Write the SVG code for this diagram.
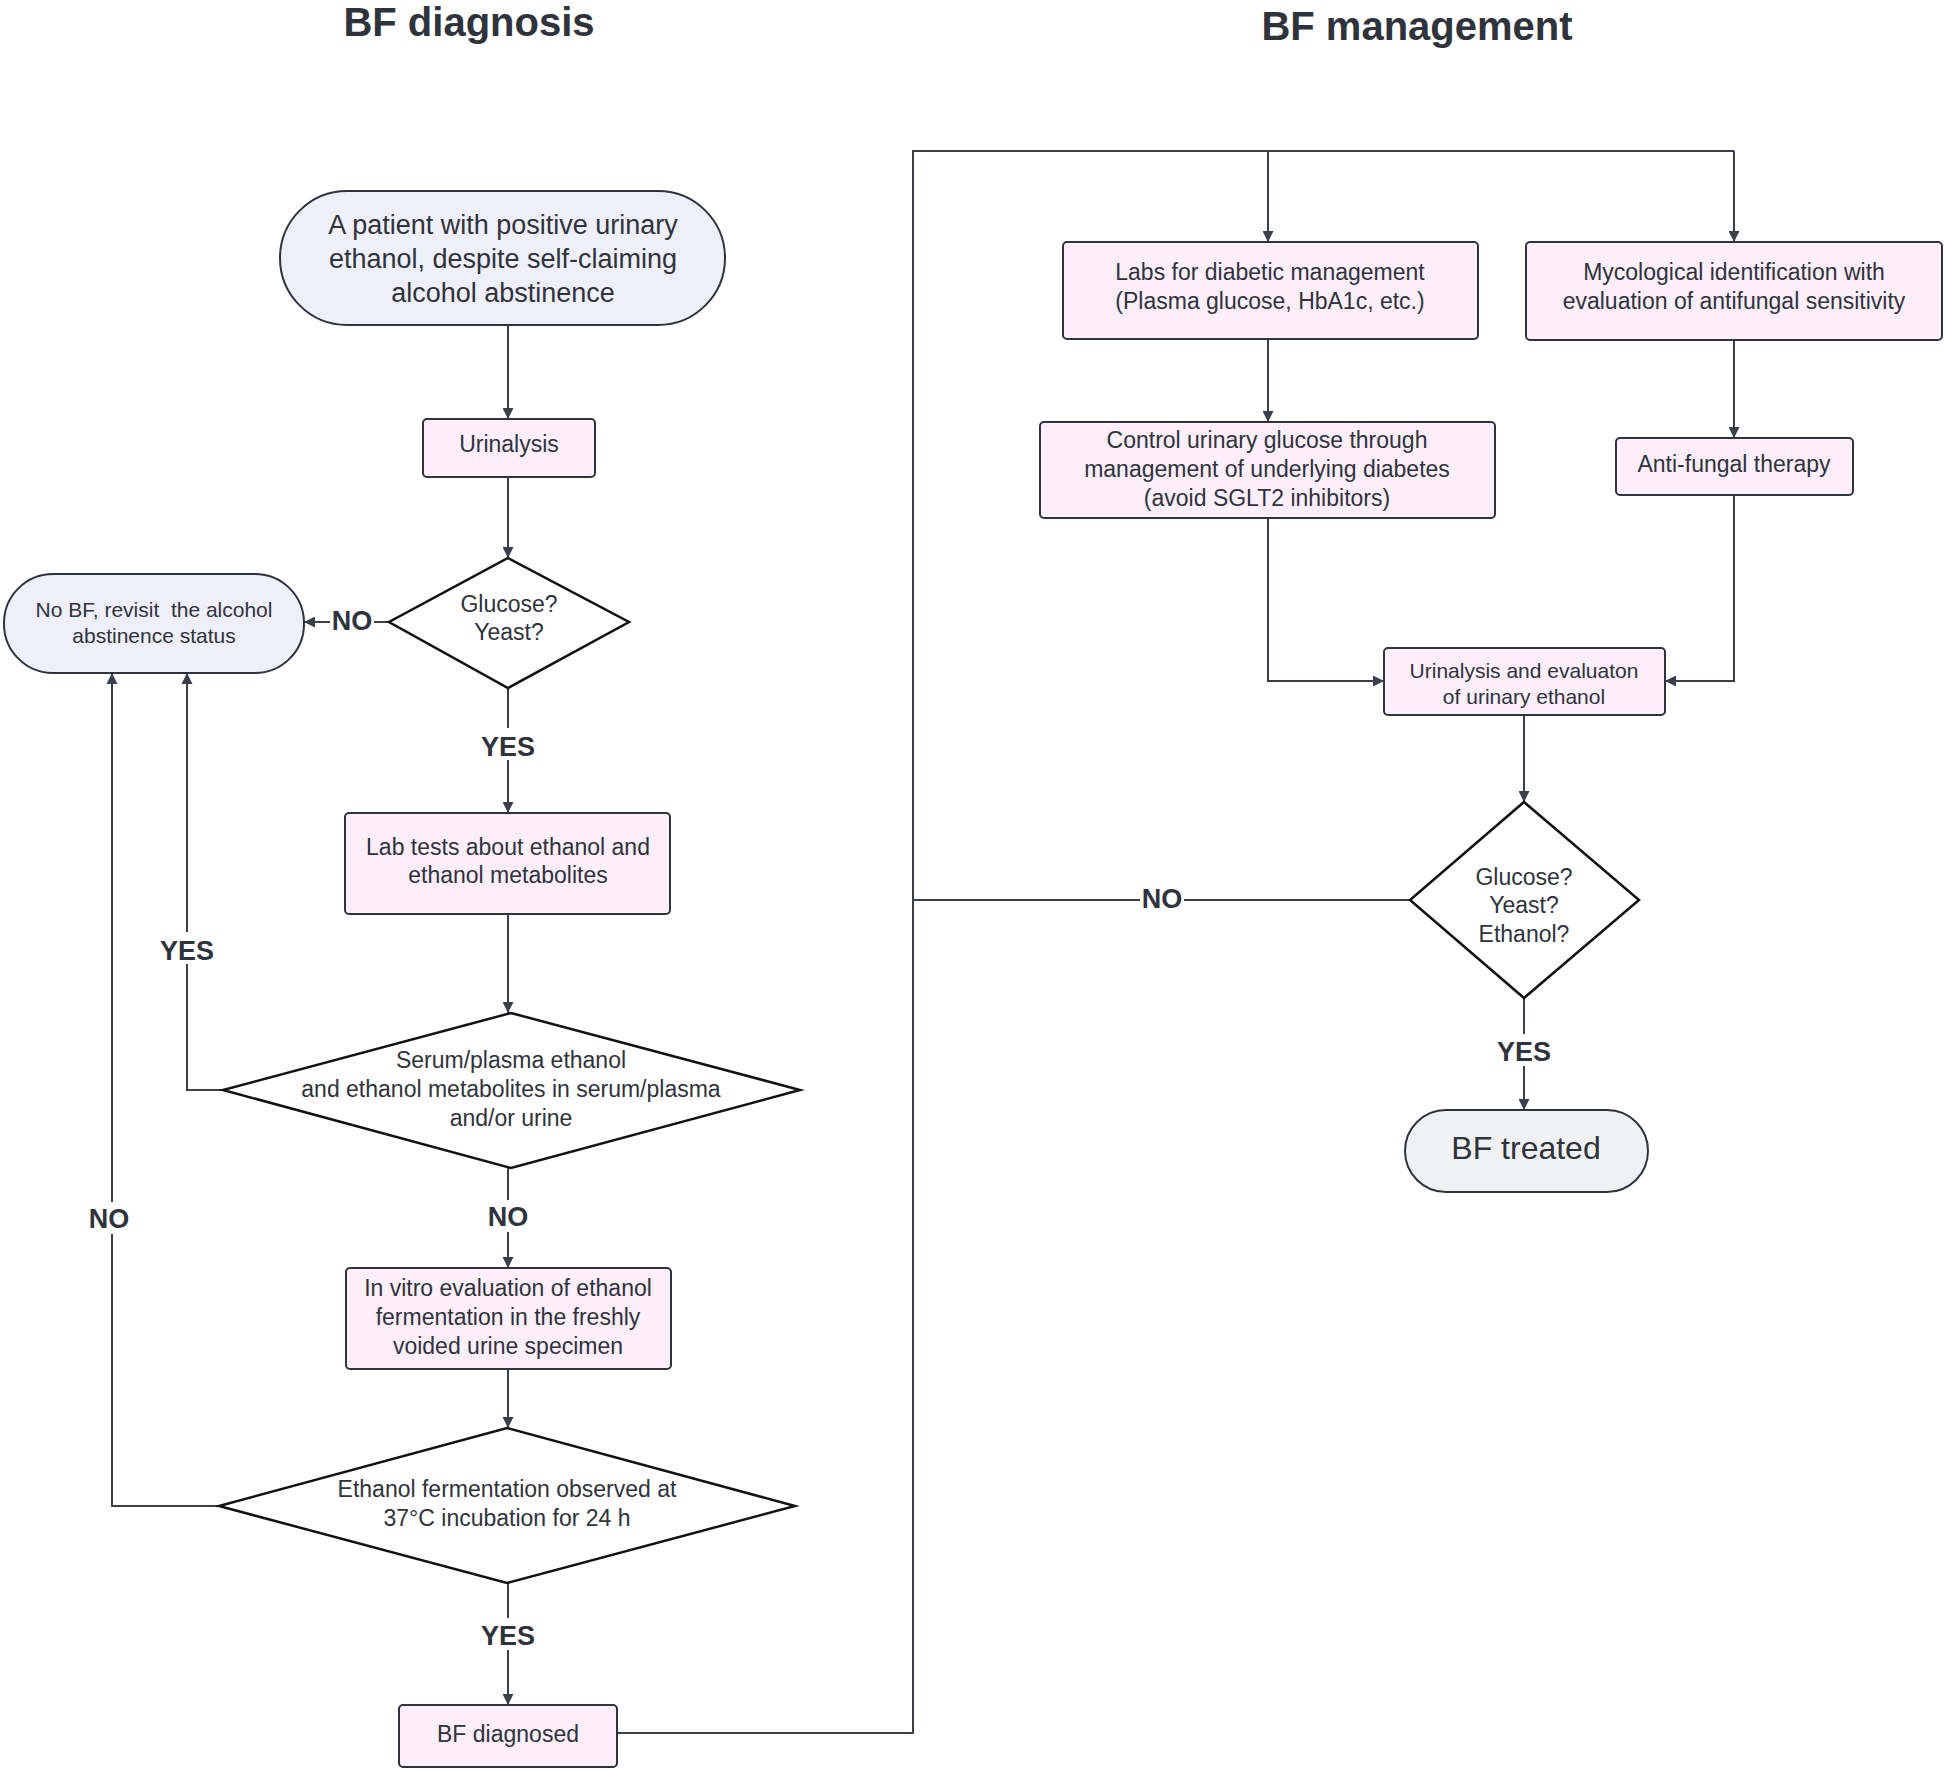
<svg xmlns="http://www.w3.org/2000/svg" width="1944" height="1771" viewBox="0 0 1944 1771">
<style>
.t{font-family:"Liberation Sans",Arial,sans-serif;fill:#2f333b;text-anchor:middle}
.title{font-size:40px;font-weight:bold}
.b{font-size:23px}
.lbl{font-size:27px;font-weight:bold}
.box{fill:#fdeefb;stroke:#2f333b;stroke-width:2}
.pill{fill:#efeffa;stroke:#2f333b;stroke-width:2}
.gray{fill:#f0f1f3;stroke:#2f333b;stroke-width:2}
.dia{fill:#fff;stroke:#111;stroke-width:2.5}
.c{fill:none;stroke:#3a3f4a;stroke-width:2}
.bg{fill:#fff}
</style>
<defs><marker id="a" viewBox="0 0 10 10" refX="10" refY="5" markerWidth="11" markerHeight="11" markerUnits="userSpaceOnUse" orient="auto"><path d="M0,0L10,5L0,10z" fill="#3a3f4a"/></marker></defs>
<rect width="1944" height="1771" fill="#fff"/>
<text class="t title" x="469" y="36">BF diagnosis</text>
<text class="t title" x="1417" y="40">BF management</text>
<g id="connectors">
<path class="c" marker-end="url(#a)" d="M508,325V419"/>
<path class="c" marker-end="url(#a)" d="M508,477V558"/>
<path class="c" marker-end="url(#a)" d="M389,622H304"/>
<path class="c" marker-end="url(#a)" d="M508,688V813"/>
<path class="c" marker-end="url(#a)" d="M508,914V1013"/>
<path class="c" marker-end="url(#a)" d="M223,1090H187V673"/>
<path class="c" marker-end="url(#a)" d="M508,1168V1268"/>
<path class="c" marker-end="url(#a)" d="M508,1369V1428"/>
<path class="c" marker-end="url(#a)" d="M219,1506H112V673"/>
<path class="c" marker-end="url(#a)" d="M508,1583V1705"/>
<path class="c" d="M617,1733H913V151H1734"/>
<path class="c" marker-end="url(#a)" d="M1268,151V242"/>
<path class="c" marker-end="url(#a)" d="M1734,151V242"/>
<path class="c" marker-end="url(#a)" d="M1268,339V422"/>
<path class="c" marker-end="url(#a)" d="M1734,340V438"/>
<path class="c" marker-end="url(#a)" d="M1268,518V681H1384"/>
<path class="c" marker-end="url(#a)" d="M1734,495V681H1665"/>
<path class="c" marker-end="url(#a)" d="M1524,715V802"/>
<path class="c" d="M1410,900H913"/>
<path class="c" marker-end="url(#a)" d="M1524,998V1110"/>
<rect class="bg" x="330" y="604" width="44" height="32"/><text class="t lbl" x="352" y="630">NO</text>
<rect class="bg" x="478" y="728" width="60" height="32"/><text class="t lbl" x="508" y="756">YES</text>
<rect class="bg" x="157" y="932" width="60" height="32"/><text class="t lbl" x="187" y="960">YES</text>
<rect class="bg" x="486" y="1200" width="44" height="32"/><text class="t lbl" x="508" y="1226">NO</text>
<rect class="bg" x="87" y="1202" width="44" height="32"/><text class="t lbl" x="109" y="1228">NO</text>
<rect class="bg" x="478" y="1618" width="60" height="32"/><text class="t lbl" x="508" y="1645">YES</text>
<rect class="bg" x="1140" y="882" width="44" height="32"/><text class="t lbl" x="1162" y="908">NO</text>
<rect class="bg" x="1494" y="1034" width="60" height="32"/><text class="t lbl" x="1524" y="1061">YES</text>
</g>
<g id="start"><rect class="pill" x="280" y="191" width="445" height="134" rx="67"/>
<text class="t" font-size="27" x="503" y="234">A patient with positive urinary</text><text class="t" font-size="27" x="503" y="268">ethanol, despite self-claiming</text><text class="t" font-size="27" x="503" y="302">alcohol abstinence</text></g>
<g id="urinalysis"><rect class="box" x="423" y="419" width="172" height="58" rx="4"/><text class="t b" x="509" y="452">Urinalysis</text></g>
<g id="d1"><path class="dia" d="M508,558L629,622L508,688L389,622Z"/><text class="t b" x="509" y="612">Glucose?</text><text class="t b" x="509" y="640">Yeast?</text></g>
<g id="nobf"><rect class="pill" x="4" y="574" width="300" height="99" rx="49"/><text class="t" font-size="21" x="154" y="617" xml:space="preserve" style="white-space:pre">No BF, revisit  the alcohol</text><text class="t" font-size="21" x="154" y="643">abstinence status</text></g>
<g id="lab"><rect class="box" x="345" y="813" width="325" height="101" rx="4"/><text class="t b" x="508" y="855">Lab tests about ethanol and</text><text class="t b" x="508" y="883">ethanol metabolites</text></g>
<g id="d2"><path class="dia" d="M511,1013L800,1090L511,1168L223,1090Z"/><text class="t b" x="511" y="1068">Serum/plasma ethanol</text><text class="t b" x="511" y="1097">and ethanol metabolites in serum/plasma</text><text class="t b" x="511" y="1126">and/or urine</text></g>
<g id="invitro"><rect class="box" x="346" y="1268" width="325" height="101" rx="4"/><text class="t b" x="508" y="1296">In vitro evaluation of ethanol</text><text class="t b" x="508" y="1325">fermentation in the freshly</text><text class="t b" x="508" y="1354">voided urine specimen</text></g>
<g id="d3"><path class="dia" d="M507,1428L795,1506L507,1583L219,1506Z"/><text class="t b" x="507" y="1497">Ethanol fermentation observed at</text><text class="t b" x="507" y="1526">37°C incubation for 24 h</text></g>
<g id="diag"><rect class="box" x="399" y="1705" width="218" height="62" rx="4"/><text class="t b" x="508" y="1742">BF diagnosed</text></g>
<g id="labs"><rect class="box" x="1063" y="242" width="415" height="97" rx="4"/><text class="t b" x="1270" y="280">Labs for diabetic management</text><text class="t b" x="1270" y="309">(Plasma glucose, HbA1c, etc.)</text></g>
<g id="myco"><rect class="box" x="1526" y="242" width="416" height="98" rx="4"/><text class="t b" x="1734" y="280">Mycological identification with</text><text class="t b" x="1734" y="309">evaluation of antifungal sensitivity</text></g>
<g id="control"><rect class="box" x="1040" y="422" width="455" height="96" rx="4"/><text class="t b" x="1267" y="448">Control urinary glucose through</text><text class="t b" x="1267" y="477">management of underlying diabetes</text><text class="t b" x="1267" y="506">(avoid SGLT2 inhibitors)</text></g>
<g id="antifungal"><rect class="box" x="1616" y="438" width="237" height="57" rx="4"/><text class="t b" x="1734" y="472">Anti-fungal therapy</text></g>
<g id="ueval"><rect class="box" x="1384" y="648" width="281" height="67" rx="4"/><text class="t" font-size="21" x="1524" y="678">Urinalysis and evaluaton</text><text class="t" font-size="21" x="1524" y="704">of urinary ethanol</text></g>
<g id="d4"><path class="dia" d="M1524,802L1639,900L1524,998L1410,900Z"/><text class="t b" x="1524" y="885">Glucose?</text><text class="t b" x="1524" y="913">Yeast?</text><text class="t b" x="1524" y="942">Ethanol?</text></g>
<g id="treated"><rect class="gray" x="1405" y="1110" width="243" height="82" rx="41"/><text class="t" font-size="32" x="1526" y="1159">BF treated</text></g>
</svg>
